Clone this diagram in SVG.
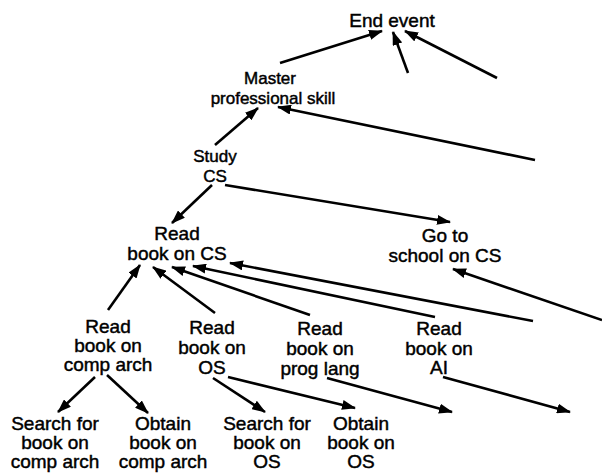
<svg xmlns="http://www.w3.org/2000/svg" width="602" height="474" viewBox="0 0 602 474">
<defs>
<marker id="ah" markerUnits="userSpaceOnUse" markerWidth="14" markerHeight="10" refX="13" refY="5" orient="auto">
<path d="M0,0 L14,5 L0,10 z" fill="#000"/>
</marker>
<style>
text{font-family:"Liberation Sans",Arial,sans-serif;font-size:19px;fill:#000;stroke:#000;stroke-width:0.45;text-anchor:middle}
.sm{font-size:17px}
line{stroke:#000;stroke-width:2.6;marker-end:url(#ah)}
</style>
</defs>
<rect width="602" height="474" fill="#fff"/>
<g id="connectors">
<line x1="280" y1="63" x2="382" y2="31"/>
<line x1="408" y1="73" x2="393" y2="32"/>
<line x1="497" y1="78" x2="405" y2="31"/>
<line x1="215" y1="145" x2="258" y2="108"/>
<line x1="535" y1="160" x2="278" y2="107"/>
<line x1="212" y1="185" x2="172" y2="223"/>
<line x1="225" y1="185" x2="450" y2="222"/>
<line x1="108" y1="310" x2="140" y2="265"/>
<line x1="215" y1="313" x2="153" y2="267"/>
<line x1="310" y1="315" x2="172" y2="267"/>
<line x1="435" y1="317" x2="193" y2="266"/>
<line x1="533" y1="321" x2="230" y2="263"/>
<line x1="602" y1="320" x2="453" y2="269"/>
<line x1="95" y1="377" x2="58" y2="412"/>
<line x1="107" y1="375" x2="148" y2="413"/>
<line x1="213" y1="378" x2="265" y2="412"/>
<line x1="228" y1="377" x2="355" y2="408"/>
<line x1="327" y1="378" x2="452" y2="412"/>
<line x1="443" y1="377" x2="570" y2="412"/>
</g>
<g id="end-event"><text x="392" y="27">End event</text></g>
<g id="master-skill"><text class="sm" x="270" y="84">Master</text><text class="sm" x="273" y="104">professional skill</text></g>
<g id="study-cs"><text class="sm" x="215" y="162">Study</text><text class="sm" x="215" y="182">CS</text></g>
<g id="read-book-cs"><text x="177" y="240">Read</text><text x="177" y="260">book on CS</text></g>
<g id="school-cs"><text x="445" y="242">Go to</text><text x="445" y="262">school on CS</text></g>
<g id="read-comp-arch"><text x="108" y="333">Read</text><text x="108" y="352">book on</text><text x="108" y="371">comp arch</text></g>
<g id="read-os"><text x="212" y="334">Read</text><text x="212" y="354">book on</text><text x="212" y="374">OS</text></g>
<g id="read-prog-lang"><text x="320" y="335">Read</text><text x="320" y="355">book on</text><text x="320" y="375">prog lang</text></g>
<g id="read-ai"><text x="439" y="335">Read</text><text x="439" y="355">book on</text><text x="439" y="374">AI</text></g>
<g id="search-comp-arch"><text x="55" y="430">Search for</text><text x="55" y="449">book on</text><text x="55" y="468">comp arch</text></g>
<g id="obtain-comp-arch"><text x="163" y="430">Obtain</text><text x="163" y="449">book on</text><text x="163" y="468">comp arch</text></g>
<g id="search-os"><text x="267" y="430">Search for</text><text x="267" y="449">book on</text><text x="267" y="468">OS</text></g>
<g id="obtain-os"><text x="361" y="430">Obtain</text><text x="361" y="449">book on</text><text x="361" y="468">OS</text></g>
</svg>
